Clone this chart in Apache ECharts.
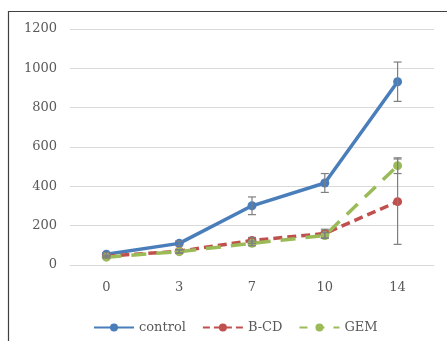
<!DOCTYPE html>
<html><head><meta charset="utf-8">
<script src="https://cdn.jsdelivr.net/npm/echarts@6/dist/echarts.min.js"></script>
<style>html,body{margin:0;padding:0;background:#fff}#c{width:447px;height:341px}</style>
</head><body><div id="c"></div>
<script>
const categories = ['0', '3', '7', '10', '14'];
const controlValues = [55, 110, 301, 417, 932];
const bcdValues = [45, 70, 125, 160, 322];
const gemValues = [40, 68, 110, 150, 505];
const controlErr = [8, 12, 45, 48, 100];
const bcdErr = [5, 8, 15, 22, 217];
const gemErr = [5, 8, 12, 15, 40];
const yTicks = [0, 200, 400, 600, 800, 1000, 1200];

const font = 'DejaVu Serif';
const colors = {control: '#4A7EBB', bcd: '#C0504D', gem: '#9BBB59'};

function errData(vals, errs) {
  return vals.map((v, i) => [i, v - errs[i], v + errs[i]]);
}
function renderErr(params, api) {
  const x = api.value(0);
  const lo = api.coord([x, api.value(1)]);
  const hi = api.coord([x, api.value(2)]);
  const w = 4;
  const style = {stroke: '#7F7F7F', lineWidth: 1.2, fill: null};
  return {type: 'group', children: [
    {type: 'line', shape: {x1: lo[0], y1: lo[1], x2: hi[0], y2: hi[1]}, style},
    {type: 'line', shape: {x1: lo[0]-w, y1: lo[1], x2: lo[0]+w, y2: lo[1]}, style},
    {type: 'line', shape: {x1: hi[0]-w, y1: hi[1], x2: hi[0]+w, y2: hi[1]}, style}
  ]};
}
function lineSeries(name, data, color, type) {
  return {
    name, type: 'line', data, symbol: 'circle', symbolSize: 9,
    itemStyle: {color},
    lineStyle: {color, width: 3.5, type},
    z: 3
  };
}
const chart = echarts.init(document.getElementById('c'));
chart.setOption({
  animation: false,
  graphic: [{type: 'rect', shape: {x: 8.5, y: 11.5, width: 460, height: 360},
    style: {fill: null, stroke: '#404040', lineWidth: 1.2}, silent: true}],
  grid: {left: 70, right: 13, top: 29, bottom: 76},
  legend: {
    left: 88, top: 316, itemWidth: 40, itemHeight: 10, itemGap: 16,
    textStyle: {fontFamily: font, fontSize: 13, color: '#595959'},
    data: [
      {name: 'control'},
      {name: 'B-CD', lineStyle: {type: [7, 4]}},
      {name: 'GEM', lineStyle: {type: [8, 9]}}
    ]
  },
  xAxis: {
    type: 'category', data: categories, boundaryGap: true,
    axisLine: {lineStyle: {color: '#D9D9D9', width: 1}},
    axisTick: {show: false},
    axisLabel: {fontFamily: font, fontSize: 13, color: '#595959', margin: 16}
  },
  yAxis: {
    type: 'value', min: yTicks[0], max: yTicks[yTicks.length-1], interval: 200,
    axisLine: {show: false}, axisTick: {show: false},
    splitLine: {lineStyle: {color: '#D9D9D9', width: 1}},
    axisLabel: {fontFamily: font, fontSize: 13, color: '#595959', margin: 13,
      formatter: v => String(v)}
  },
  series: [
    lineSeries('control', controlValues, colors.control, 'solid'),
    lineSeries('B-CD', bcdValues, colors.bcd, [9, 5]),
    lineSeries('GEM', gemValues, colors.gem, [15, 10]),
    {type: 'custom', renderItem: renderErr, data: errData(controlValues, controlErr), z: 5, silent: true},
    {type: 'custom', renderItem: renderErr, data: errData(bcdValues, bcdErr), z: 5, silent: true},
    {type: 'custom', renderItem: renderErr, data: errData(gemValues, gemErr), z: 5, silent: true}
  ]
});
</script></body></html>
